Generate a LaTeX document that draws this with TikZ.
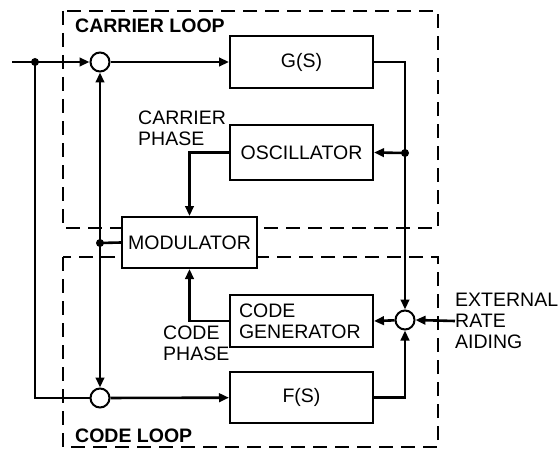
\documentclass[tikz,border=0pt]{standalone}
\usepackage{fontspec}
\setmainfont{Liberation Sans}
\usetikzlibrary{arrows.meta}
\begin{document}
\begin{tikzpicture}[x=1pt,y=-1pt,
  blk/.style={draw, line width=2pt, minimum width=143pt, minimum height=52pt, inner sep=0pt, fill=white, font=\fontsize{19.5}{21}\selectfont},
  sumc/.style={draw, circle, line width=2pt, minimum size=19pt, inner sep=0pt, fill=white},
  jdot/.style={circle, fill, inner sep=0pt, minimum size=8pt},
  conn/.style={line width=2.6pt},
  arr/.style={conn, -{Triangle[length=10pt,width=8.5pt]}},
  loopbox/.style={line width=2pt, dash pattern=on 14pt off 8pt},
  lbl/.style={font=\fontsize{19.5}{21}\selectfont, align=left, inner sep=0pt},
  boldlbl/.style={font=\fontsize{19.5}{21}\selectfont\bfseries, inner sep=0pt}]
\useasboundingbox (0,0) rectangle (560,452);
% loop boxes
\draw[loopbox] (63,11) rectangle (438,228);
\draw[loopbox] (63,257) rectangle (438,447);
% blocks
\node[blk, minimum height=52pt] (g) at (301.5,62) {G(S)};
\node[blk, minimum height=55pt] (osc) at (301.5,152.5) {OSCILLATOR};
\node[blk, minimum width=135pt, minimum height=51pt] (mod) at (189.5,242.5) {MODULATOR};
\node[blk, minimum height=52pt, align=left, text width=125pt, inner xsep=9pt] (cg) at (301.5,321) {CODE\\GENERATOR};
\node[blk, minimum height=51pt] (fs) at (301.5,397.5) {F(S)};
% summing junctions
\node[sumc] (s1) at (100,62) {};
\node[sumc] (s2) at (100,398) {};
\node[sumc] (s3) at (405,320) {};
% points
\coordinate (in) at (12,62);
\node[jdot] (d1) at (35,62) {};
\node[jdot] (d2) at (405,153) {};
\node[jdot] (d3) at (100,243) {};
\coordinate (c1) at (35,398);
% labels
\node[boldlbl, anchor=west] (cl) at (75,26) {CARRIER LOOP};
\node[boldlbl, anchor=west] (col) at (75,436) {CODE LOOP};
\node[lbl, anchor=west] (cp) at (138,128.5) {CARRIER\\PHASE};
\node[lbl, anchor=west] (cdp) at (163,343.5) {CODE\\PHASE};
\node[lbl, anchor=west] (ext) at (455,321) {EXTERNAL\\RATE\\AIDING};
% connectors
\draw[arr] (in) -- (s1);
\draw[conn] (d1.center) -- (c1) -- (s2.west);
\draw[arr] (s1) -- (g);
\draw[arr] (g.east) -| (s3.north);
\draw[arr] (d2.center) -- (osc.east);
\draw[arr] (osc.west) -| (mod.north);
\draw[arr] (cg.west) -| (mod.south);
\draw[arr] (d3.center) -- (s1.south);
\draw[arr] (d3.center) -- (s2.north);
\draw[conn] (d3.center) -- (mod.west);
\draw[arr] (s2) -- (fs);
\draw[arr] (fs.east) -| (s3.south);
\draw[arr] (s3) -- (cg.east);
\draw[arr] (ext.west) -- (s3.east);
\end{tikzpicture}
\end{document}
